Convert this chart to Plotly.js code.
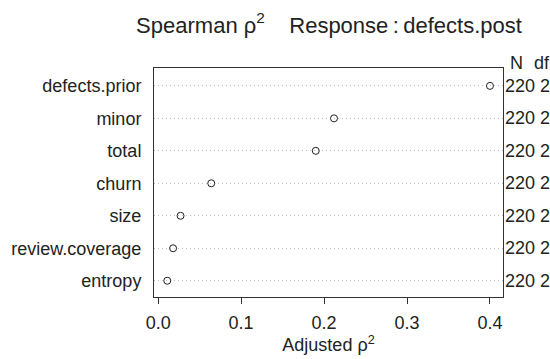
<!DOCTYPE html>
<html><head><meta charset="utf-8">
<script src="https://cdn.plot.ly/plotly-3.0.1.min.js"></script>
<style>html,body{margin:0;padding:0;background:#fff}#c{width:550px;height:359px}</style>
</head><body><div id="c"></div>
<script>
const variables = ['defects.prior','minor','total','churn','size','review.coverage','entropy'];
const adjRho2 = [0.400, 0.212, 0.190, 0.064, 0.027, 0.018, 0.011];
const nObs = [220, 220, 220, 220, 220, 220, 220];
const dfs = [2, 2, 2, 2, 2, 2, 2];
const xTicks = [0.0, 0.1, 0.2, 0.3, 0.4];
const xTickLabels = ['0.0', '0.1', '0.2', '0.3', '0.4'];

const yCats = variables.slice().reverse();
const FONT = 'Liberation Sans, Arial, sans-serif';
const TXT = '#222';
const W = 550, L = 154, R = 47;
const pw = W - L - R;
function px(p){ return (p - L) / pw; }

const annotations = [];
variables.forEach((v, i) => {
  annotations.push({xref:'paper', yref:'y', x:px(503), y:v, text:nObs[i] + ' ' + dfs[i], showarrow:false,
    xanchor:'left', yanchor:'middle', font:{family:FONT,size:18,color:TXT}});
});
annotations.push({xref:'paper', yref:'paper', x:px(516), y:1, yshift:5, text:'N', showarrow:false,
  xanchor:'center', yanchor:'middle', font:{family:FONT,size:18,color:TXT}});
annotations.push({xref:'paper', yref:'paper', x:px(532), y:1, yshift:5, text:'df', showarrow:false,
  xanchor:'left', yanchor:'middle', font:{family:FONT,size:18,color:TXT}});

const trace = {
  type:'scatter', mode:'markers',
  x: adjRho2, y: variables,
  marker:{symbol:'circle-open', size:7, color:'#222', line:{width:1, color:'#222'}},
  cliponaxis:false, hoverinfo:'skip'
};

const layout = {
  width:550, height:359,
  margin:{l:L, r:R, t:68, b:62},
  paper_bgcolor:'#fff', plot_bgcolor:'#fff',
  font:{family:FONT, size:18, color:TXT},
  showlegend:false,
  title:{text:'Spearman ρ<sup>2</sup>\u00a0\u00a0\u00a0\u00a0Response\u2009:\u2009defects.post',
    x:px(329), xref:'paper', xanchor:'center', y:1-25/359, yref:'container', yanchor:'middle',
    font:{family:FONT,size:22,color:TXT}},
  xaxis:{range:[-0.005, 0.4157], tickvals:xTicks, ticktext:xTickLabels,
    ticks:'outside', ticklen:6, tickcolor:'#333', tickwidth:1,
    showline:true, mirror:true, linecolor:'#333', linewidth:1,
    showgrid:false, zeroline:false, ticklabelstandoff:3,
    title:{text:'Adjusted ρ<sup>2</sup>', standoff:5, font:{family:FONT,size:18,color:TXT}},
    tickfont:{family:FONT,size:18,color:TXT}},
  yaxis:{type:'category', categoryorder:'array', categoryarray:yCats,
    range:[-0.5, 6.55], ticks:'', showline:true, mirror:true, linecolor:'#333', linewidth:1,
    showgrid:true, gridcolor:'#bdbdbd', griddash:'1px,3px', gridwidth:1, zeroline:false,
    ticklabelstandoff:8, tickfont:{family:FONT,size:18,color:TXT}},
  annotations: annotations
};

Plotly.newPlot('c', [trace], layout, {staticPlot:true, displayModeBar:false});
</script></body></html>
